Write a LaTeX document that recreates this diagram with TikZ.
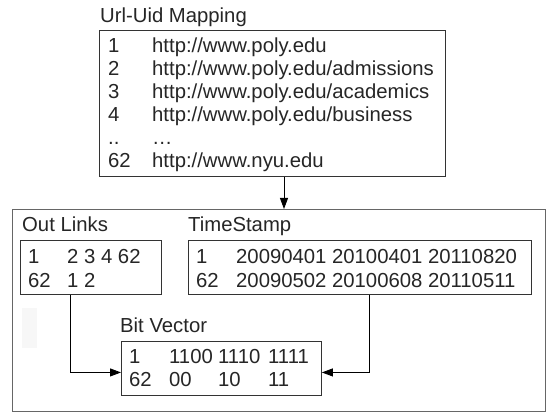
\documentclass[tikz,border=0pt]{standalone}
\usepackage{fontspec}
\setmainfont{Liberation Sans}
\usetikzlibrary{arrows.meta,calc}
\begin{document}
\begin{tikzpicture}[x=1pt,y=-1pt,
  every node/.style={font=\fontsize{20.3}{23}\selectfont, text=black!85},
  txt/.style={anchor=base west, inner sep=0pt},
  box/.style={draw=black!80, line width=0.9pt, anchor=north west, inner sep=0pt, fill=white},
  outerbox/.style={draw=black!60, line width=1.3pt, anchor=north west, inner sep=0pt},
  arr/.style={draw=black, line width=0.9pt, -{Triangle[length=11pt,width=8pt]}}]
\useasboundingbox (0,0) rectangle (547,414);
\fill[white] (0,0) rectangle (547,414);
% outer container
\node[outerbox, minimum width=533pt, minimum height=202pt] (outer) at (12,209) {};
\fill[black!3] (22,308) rectangle (37,348);
% Url-Uid Mapping
\node[txt] (tmaptitle) at (100,23) {Url-Uid Mapping};
\node[box, minimum width=346pt, minimum height=146pt] (map) at (99,30) {};
\node[txt] (m1a) at (108,53) {1};
\node[txt] (m1b) at (152,53) {http://www.poly.edu};
\node[txt] (m2a) at (108,76) {2};
\node[txt] (m2b) at (152,76) {http://www.poly.edu/admissions};
\node[txt] (m3a) at (108,99) {3};
\node[txt] (m3b) at (152,99) {http://www.poly.edu/academics};
\node[txt] (m4a) at (108,122) {4};
\node[txt] (m4b) at (152,122) {http://www.poly.edu/business};
\node[txt] (m5a) at (108,145) {..};
\node[txt] (m5b) at (152,145) {…};
\node[txt] (m6a) at (108,168) {62};
\node[txt] (m6b) at (152,168) {http://www.nyu.edu};
% Out Links
\node[txt] (oltitle) at (22,232) {Out Links};
\node[box, minimum width=141pt, minimum height=54pt] (ol) at (20,240) {};
\node[txt] (o1a) at (28,264) {1};
\node[txt] (o1b) at (67,264) {2 3 4 62};
\node[txt] (o2a) at (28,288) {62};
\node[txt] (o2b) at (67,288) {1 2};
% TimeStamp
\node[txt] (tstitle) at (188,232) {TimeStamp};
\node[box, minimum width=343pt, minimum height=54pt] (ts) at (188,240) {};
\node[txt] (t1a) at (196,264) {1};
\node[txt] (t1b) at (236,264) {20090401 20100401 20110820};
\node[txt] (t2a) at (196,288) {62};
\node[txt] (t2b) at (236,288) {20090502 20100608 20110511};
% Bit Vector
\node[txt] (bvtitle) at (120,333) {Bit Vector};
\node[box, minimum width=200pt, minimum height=54pt] (bv) at (121,341) {};
\node[txt] (b1a) at (129,364) {1};
\node[txt] (b1b) at (169,364) {1100};
\node[txt] (b1c) at (218,364) {1110};
\node[txt] (b1d) at (268,364) {1111};
\node[txt] (b2a) at (129,387) {62};
\node[txt] (b2b) at (169,387) {00};
\node[txt] (b2c) at (218,387) {10};
\node[txt] (b2d) at (268,387) {11};
% connectors
\draw[arr] ($(map.south west)+(185,0)$) -- ($(outer.north west)+(272,0)$);
\draw[arr] ($(ol.south west)+(50,0)$) |- ($(bv.west)+(0,4)$);
\draw[arr] ($(ts.south west)+(181,0)$) |- ($(bv.east)+(0,4)$);
\end{tikzpicture}
\end{document}
